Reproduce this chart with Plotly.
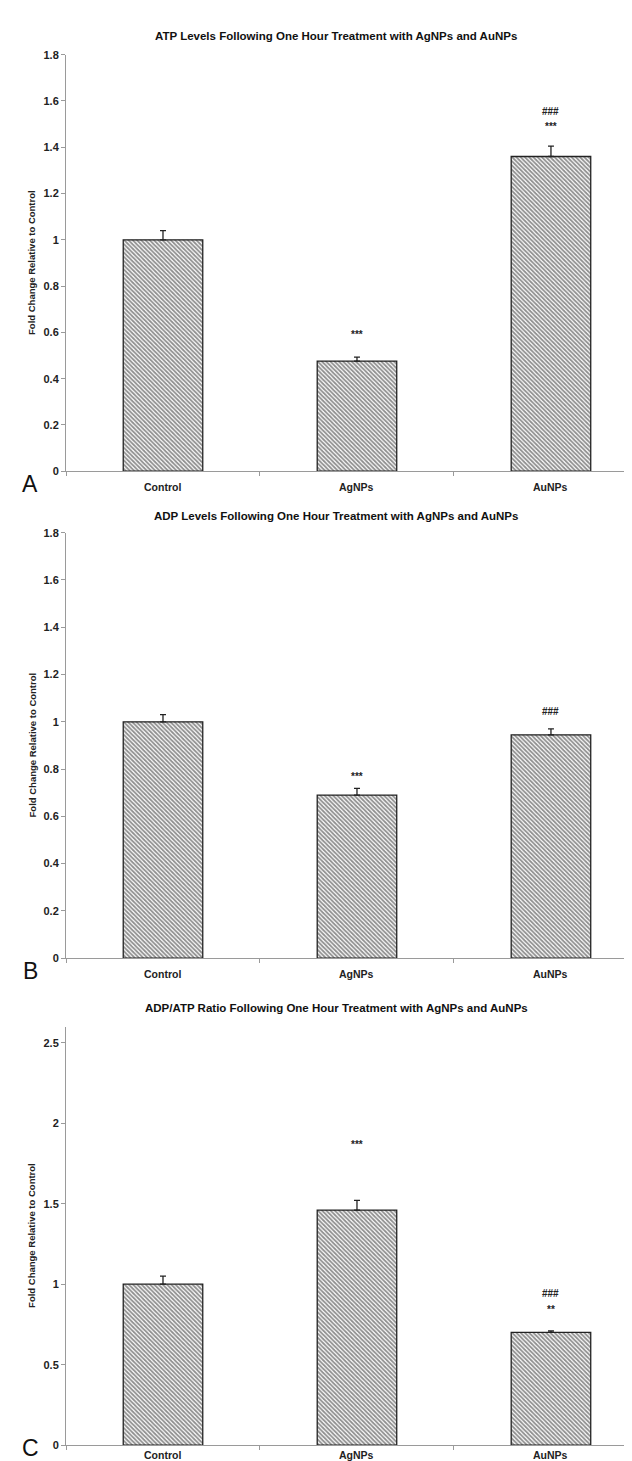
import plotly.graph_objects as go

W, H = 632, 1461

categories = ["Control", "AgNPs", "AuNPs"]

titles = [
    "ATP Levels Following One Hour Treatment with AgNPs and AuNPs",
    "ADP Levels Following One Hour Treatment with AgNPs and AuNPs",
    "ADP/ATP Ratio Following One Hour Treatment with AgNPs and AuNPs",
]
panel_letters = ["A", "B", "C"]

atp_values = [1.00, 0.476, 1.36]
atp_errors = [0.04, 0.017, 0.045]
adp_values = [1.00, 0.69, 0.945]
adp_errors = [0.03, 0.028, 0.025]
ratio_values = [1.00, 1.46, 0.70]
ratio_errors = [0.05, 0.06, 0.01]

# significance marks: (category, y value, text)
atp_marks = [("AgNPs", 0.59, "***"), ("AuNPs", 1.49, "***"), ("AuNPs", 1.555, "###")]
adp_marks = [("AgNPs", 0.77, "***"), ("AuNPs", 1.045, "###")]
ratio_marks = [("AgNPs", 1.87, "***"), ("AuNPs", 0.845, "**"), ("AuNPs", 0.94, "###")]

y_ranges = [[0, 1.8], [0, 1.8], [0, 2.6]]
y_dticks = [0.2, 0.2, 0.5]

values = [atp_values, adp_values, ratio_values]
errors = [atp_errors, adp_errors, ratio_errors]
marks = [atp_marks, adp_marks, ratio_marks]

# pixel layout
x_left_px = 58
panel_px = [(41, 461), (523, 952), (1021, 1443)]   # (top, bottom)
title_px = [22, 506, 1002]
xlabel_px = [(477, "middle"), (968, "middle"), (1461, "bottom")]

FONT = "Liberation Sans, Arial, sans-serif"

fig = go.Figure()

def py(p):
    return 1 - p / H

for i in range(3):
    n = "" if i == 0 else str(i + 1)
    xa, ya = "x" + n, "y" + n
    fig.add_trace(go.Bar(
        x=categories, y=values[i], xaxis=xa, yaxis=ya,
        width=0.41,
        marker=dict(
            color="white",
            line=dict(color="#222222", width=1.3),
            pattern=dict(shape="\\", fgcolor="#1e1e1e", bgcolor="white",
                         size=3, solidity=0.6, fillmode="overlay"),
        ),
        error_y=dict(type="data", symmetric=False, array=errors[i],
                     arrayminus=[0, 0, 0], color="#222222", thickness=1.3, width=3),
        showlegend=False, hoverinfo="skip",
    ))
    top, bot = panel_px[i]
    fig.layout["xaxis" + n] = dict(
        domain=[x_left_px / W, 1], anchor=ya, type="category",
        range=[-0.5, 2.459], showline=True, linecolor="#9a9a9a", linewidth=1,
        ticks="outside", tickson="boundaries", ticklen=4, tickcolor="#9a9a9a",
        showgrid=False, showticklabels=False, fixedrange=True,
    )
    fig.layout["yaxis" + n] = dict(
        domain=[py(bot), py(top)], anchor=xa, range=y_ranges[i], dtick=y_dticks[i],
        tick0=0, showline=True, linecolor="#9a9a9a", linewidth=1, ticks="outside",
        ticklen=4, tickcolor="#9a9a9a", showgrid=False, zeroline=False,
        tickfont=dict(family=FONT, size=11, color="#222222", weight="bold"),
        fixedrange=True,
    )
    # title
    fig.add_annotation(text=titles[i], xref="paper", yref="paper", x=328 / W, y=py(title_px[i]),
                       showarrow=False, xanchor="center", yanchor="middle",
                       font=dict(family=FONT, size=11.5, color="#111111", weight="bold"))
    # y-axis title
    fig.add_annotation(text="Fold Change Relative to Control", xref="paper", yref="paper",
                       x=24 / W, y=py((top + bot) / 2), textangle=-90, showarrow=False,
                       xanchor="center", yanchor="middle",
                       font=dict(family=FONT, size=9.5, color="#222222", weight="bold"))
    # x tick labels
    ly, lanc = xlabel_px[i]
    for c in categories:
        fig.add_annotation(text=c, xref=xa, yref="paper", x=c, y=py(ly),
                           showarrow=False, xanchor="center", yanchor=lanc,
                           font=dict(family=FONT, size=10.5, color="#222222", weight="bold"))
    # significance marks
    for cat, yv, t in marks[i]:
        fig.add_annotation(text=t, xref=xa, yref=ya, x=cat, y=yv, showarrow=False,
                           xanchor="center", yanchor="middle",
                           font=dict(family=FONT, size=10, color="#222222", weight="bold"))

# panel letters
letter_pos = [(22, 474, "middle"), (22, 965, "middle"), (22, 1461, "bottom")]
for letter, (lx, ly, anc) in zip(panel_letters, letter_pos):
    fig.add_annotation(text=letter, xref="paper", yref="paper", x=lx / W, y=py(ly),
                       showarrow=False, xanchor="center", yanchor=anc,
                       font=dict(family=FONT, size=23, color="#111111"))

fig.update_layout(
    width=W, height=H, margin=dict(l=0, r=0, t=0, b=0),
    paper_bgcolor="white", plot_bgcolor="white", bargap=0.59,
)

fig.write_html("out.html")
